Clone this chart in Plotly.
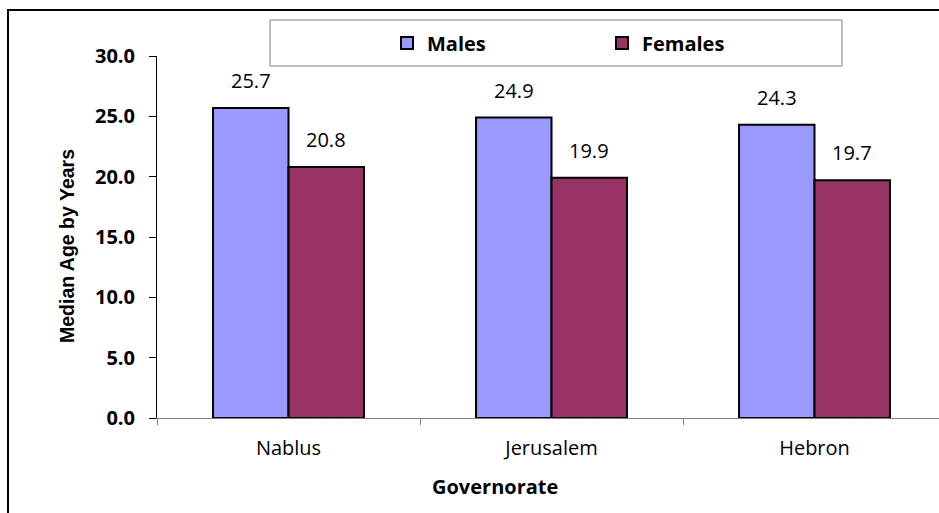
import plotly.graph_objects as go

# Median age by governorate and sex
governorates = ["Nablus", "Jerusalem", "Hebron"]
males = [25.7, 24.9, 24.3]
females = [20.8, 19.9, 19.7]
y_ticks = [0, 5, 10, 15, 20, 25, 30]

W, H = 939, 513
L, R, T, B = 157, 0, 56, 95
pw, ph = W - L - R, H - T - B


def px_x(px):
    return (px - L) / pw


def px_y(py):
    return (H - B - py) / ph


MALE_COLOR = "#9999FF"
FEMALE_COLOR = "#993366"
FONT = "Open Sans"

fig = go.Figure()
fig.add_trace(go.Bar(
    name="Males", x=governorates, y=males,
    marker=dict(color=MALE_COLOR, line=dict(color="black", width=2)),
))
fig.add_trace(go.Bar(
    name="Females", x=governorates, y=females,
    marker=dict(color=FEMALE_COLOR, line=dict(color="black", width=2)),
))

# value labels above each bar
bar_half = 37.75
annotations = []
for g, m, f in zip(governorates, males, females):
    for val, shift in ((m, -bar_half), (f, bar_half)):
        annotations.append(dict(
            x=g, y=val, xref="x", yref="y", text=f"{val:.1f}",
            showarrow=False, xshift=shift, yshift=12, yanchor="bottom",
            font=dict(family=FONT, size=20, color="black"),
        ))

# axis titles
annotations.append(dict(
    x=px_x(495), y=px_y(487), xref="paper", yref="paper",
    xanchor="center", yanchor="middle",
    text="<b>Governorate</b>", showarrow=False,
    font=dict(family=FONT, size=20, color="black"),
))
annotations.append(dict(
    x=px_x(67), y=px_y(246), xref="paper", yref="paper",
    xanchor="center", yanchor="middle",
    text="<b>Median Age by Years</b>", showarrow=False, textangle=-90,
    font=dict(family="Liberation Sans", size=19.5, color="black"),
))

shapes = [
    # outer chart border (top and left edges fall inside the page)
    dict(type="line", xref="paper", yref="paper",
         x0=px_x(7), x1=px_x(W + 60), y0=px_y(10), y1=px_y(10),
         line=dict(color="black", width=2), layer="above"),
    dict(type="line", xref="paper", yref="paper",
         x0=px_x(8), x1=px_x(8), y0=px_y(9), y1=px_y(H + 60),
         line=dict(color="black", width=2), layer="above"),
    # legend frame
    dict(type="rect", xref="paper", yref="paper",
         x0=px_x(270), x1=px_x(842), y0=px_y(66), y1=px_y(20),
         line=dict(color="#7f7f7f", width=1), fillcolor="white", layer="below"),
]

fig.update_layout(
    width=W, height=H,
    margin=dict(l=L, r=R, t=T, b=B),
    paper_bgcolor="white", plot_bgcolor="white",
    barmode="group", bargap=0.426, bargroupgap=0,
    font=dict(family=FONT, color="black"),
    showlegend=True,
    legend=dict(
        orientation="h", x=px_x(387), xanchor="left", y=px_y(43), yanchor="middle",
        bgcolor="rgba(0,0,0,0)", borderwidth=0,
        entrywidth=170, entrywidthmode="pixels",
        font=dict(family=FONT, size=20, color="black", weight="bold"),
    ),
    xaxis=dict(
        range=[-0.5, -0.5 + pw / 263.0],
        showline=True, linecolor="#808080", linewidth=1,
        ticks="outside", tickson="boundaries", ticklen=6, tickcolor="#808080",
        tickfont=dict(family=FONT, size=20, color="black"),
        ticklabelstandoff=12,
        showgrid=False, zeroline=False,
    ),
    yaxis=dict(
        range=[0, 30], tickvals=y_ticks, tickformat=".1f",
        showline=True, linecolor="black", linewidth=1,
        ticks="outside", ticklen=7, tickcolor="black",
        tickfont=dict(family=FONT, size=20, color="black", weight="bold"),
        ticklabelstandoff=10,
        showgrid=False, zeroline=False,
    ),
    annotations=annotations,
    shapes=shapes,
)

fig.write_html("out.html")
